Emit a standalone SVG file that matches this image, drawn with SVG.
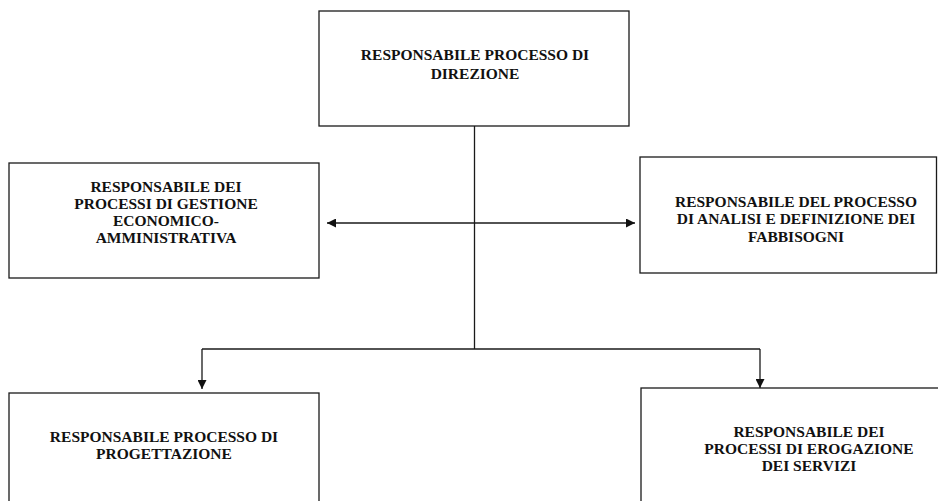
<svg xmlns="http://www.w3.org/2000/svg" width="938" height="501" viewBox="0 0 938 501">
  <style>
    .box { fill: #ffffff; stroke: #1a1a1a; stroke-width: 1.3; }
    .lbl { font-family: "Liberation Serif", "Times New Roman", serif; font-weight: bold; font-size: 15.5px; fill: #111111; text-anchor: middle; }
    .conn { fill: none; stroke: #1a1a1a; stroke-width: 1.3; }
  </style>
  <defs>
    <marker id="arr" viewBox="0 0 10 10" refX="10" refY="5" markerWidth="9" markerHeight="9" markerUnits="userSpaceOnUse" orient="auto-start-reverse">
      <path d="M0,0 L10,5 L0,10 Z" fill="#111111"/>
    </marker>
  </defs>
  <rect width="938" height="501" fill="#ffffff"/>

  <g id="connectors">
    <path class="conn" d="M474.5,126 L474.5,349"/>
    <path class="conn" d="M202,349 L760,349"/>
    <path class="conn" d="M202,349 L202,389" marker-end="url(#arr)"/>
    <path class="conn" d="M760,349 L760,388" marker-end="url(#arr)"/>
    <path class="conn" d="M327,223 L635,223" marker-start="url(#arr)" marker-end="url(#arr)"/>
  </g>

  <g id="node-direzione">
    <rect class="box" x="319" y="11" width="310" height="115"/>
    <text class="lbl" x="475" y="59.5">RESPONSABILE PROCESSO DI</text>
    <text class="lbl" x="475" y="78.5">DIREZIONE</text>
  </g>

  <g id="node-gestione">
    <rect class="box" x="9" y="163" width="310" height="115"/>
    <text class="lbl" x="166" y="191.5">RESPONSABILE DEI</text>
    <text class="lbl" x="166" y="208.5">PROCESSI DI GESTIONE</text>
    <text class="lbl" x="166" y="225.5">ECONOMICO-</text>
    <text class="lbl" x="166" y="242.5">AMMINISTRATIVA</text>
  </g>

  <g id="node-fabbisogni">
    <rect class="box" x="640" y="157" width="296.5" height="116"/>
    <text class="lbl" x="796" y="207">RESPONSABILE DEL PROCESSO</text>
    <text class="lbl" x="796" y="224">DI ANALISI E DEFINIZIONE DEI</text>
    <text class="lbl" x="796" y="241.5">FABBISOGNI</text>
  </g>

  <g id="node-progettazione">
    <rect class="box" x="9" y="393" width="310" height="120"/>
    <text class="lbl" x="164" y="442">RESPONSABILE PROCESSO DI</text>
    <text class="lbl" x="164" y="458.5">PROGETTAZIONE</text>
  </g>

  <g id="node-erogazione">
    <rect class="box" x="641" y="388" width="310" height="125"/>
    <text class="lbl" x="809" y="437">RESPONSABILE DEI</text>
    <text class="lbl" x="809" y="454">PROCESSI DI EROGAZIONE</text>
    <text class="lbl" x="809" y="470.5">DEI SERVIZI</text>
  </g>
</svg>
